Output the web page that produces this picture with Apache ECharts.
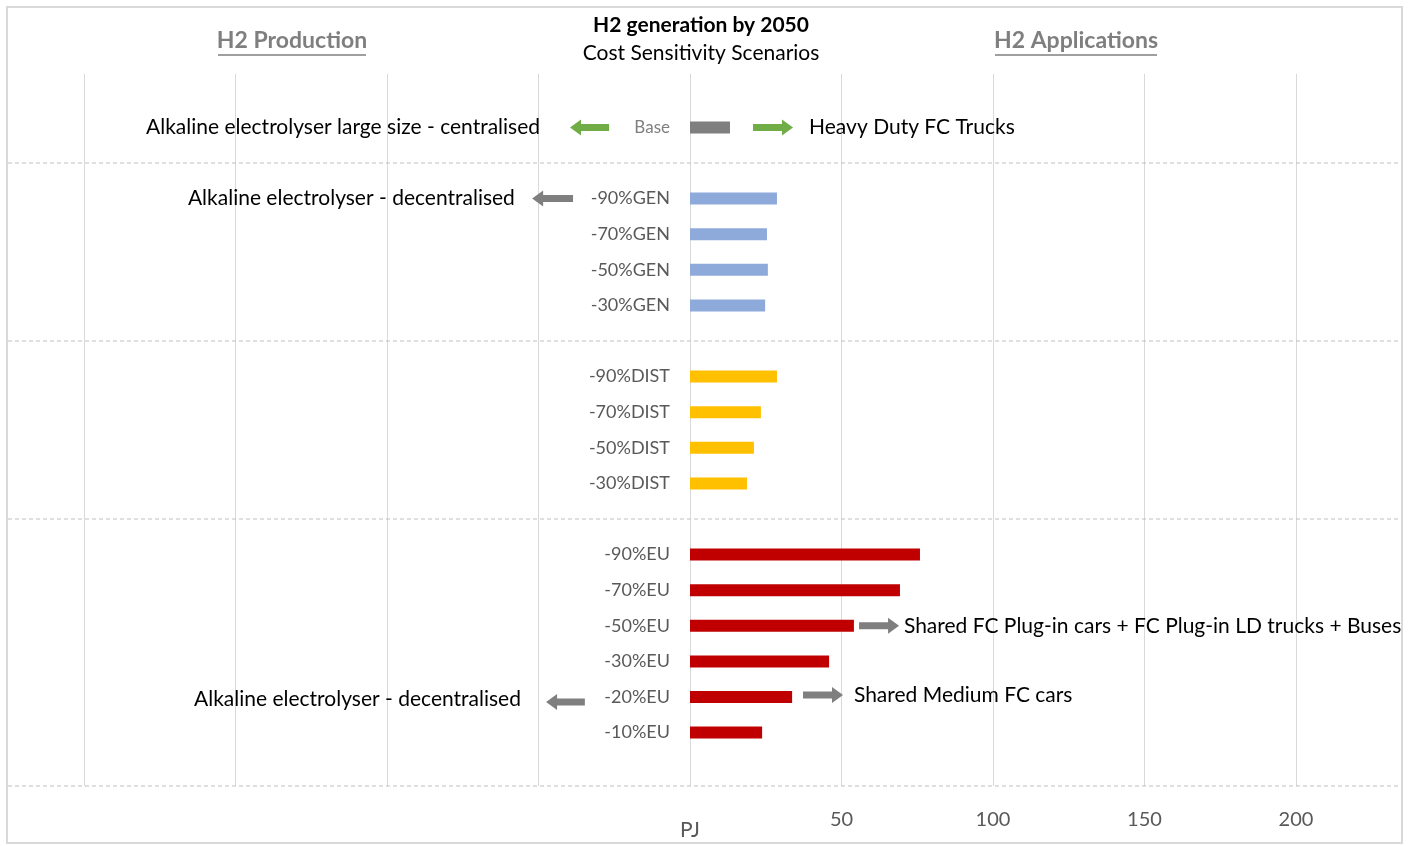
<!DOCTYPE html>
<html>
<head>
<meta charset="utf-8">
<script src="https://cdn.jsdelivr.net/npm/echarts@6/dist/echarts.min.js"></script>
<style>
  html, body { margin: 0; padding: 0; background: #fff; }
  #chart { width: 1411px; height: 846px; }
</style>
</head>
<body>
<div id="chart"></div>
<script>
// Scenario rows, top to bottom (blank entries are spacer rows between groups)
const categories = [' ', 'Base', '  ',
  '-90%GEN', '-70%GEN', '-50%GEN', '-30%GEN', '   ',
  '-90%DIST', '-70%DIST', '-50%DIST', '-30%DIST', '    ',
  '-90%EU', '-70%EU', '-50%EU', '-30%EU', '-20%EU', '-10%EU', '     '];

// H2 generation by 2050 (PJ)
const generation = [null, 13.2, null,
  28.7, 25.4, 25.7, 24.8, null,
  28.7, 23.4, 21.1, 18.8, null,
  75.9, 69.3, 54.1, 45.9, 33.7, 23.8, null];

// Scenario family of each row
const families = ['', 'base', '',
  'gen', 'gen', 'gen', 'gen', '',
  'dist', 'dist', 'dist', 'dist', '',
  'eu', 'eu', 'eu', 'eu', 'eu', 'eu', ''];

const familyColors = { base: '#7f7f7f', gen: '#8eaadb', dist: '#ffc000', eu: '#c00000' };

// Spacer rows that carry a dashed group separator
const separatorRows = [2, 7, 12];

// Technology / application notes: row, arrow span (PJ), arrow direction, text anchor (PJ), text
const noteRows   = ['Base', 'Base', '-90%GEN', '-50%EU', '-20%EU', '-20%EU'];
const noteArrows = [[-39.6, -26.7], [20.8, 34.0], [-52.1, -38.6], [55.8, 69.0], [37.3, 50.5], [-47.5, -34.7]];
const noteDirs   = ['left', 'right', 'left', 'right', 'right', 'left'];
const noteTextAt = [-49.5, 39.3, -57.8, 70.6, 54.1, -55.8];
const noteColors = ['#70ad47', '#70ad47', '#7f7f7f', '#7f7f7f', '#7f7f7f', '#7f7f7f'];
const noteTexts  = ['Alkaline electrolyser large size - centralised', 'Heavy Duty FC Trucks',
  'Alkaline electrolyser - decentralised', 'Shared FC Plug-in cars + FC Plug-in LD trucks + Buses',
  'Shared Medium FC cars', 'Alkaline electrolyser - decentralised'];
const noteShift  = [[0, 0], [0, 0], [0, 0], [0, 0], [-2, -2], [5, 2]]; // [arrow dy, text dy]

const xTicks = [50, 100, 150, 200];

const FONT = 'Lato, "Open Sans", sans-serif';

const chart = echarts.init(document.getElementById('chart'));

function arrowShape(x1, x2, y, dir) {
  const shaft = 3.5, head = 8, headLen = 11;
  if (dir === 'right') {
    const hx = x2 - headLen;
    return [[x1, y - shaft], [hx, y - shaft], [hx, y - head], [x2, y], [hx, y + head], [hx, y + shaft], [x1, y + shaft]];
  }
  const hx = x1 + headLen;
  return [[x2, y - shaft], [hx, y - shaft], [hx, y - head], [x1, y], [hx, y + head], [hx, y + shaft], [x2, y + shaft]];
}

const option = {
  animation: false,
  backgroundColor: '#fff',
  textStyle: { fontFamily: FONT },
  grid: { left: 84, right: 1411 - 1296, top: 74, bottom: 846 - 786, containLabel: false, outerBoundsMode: 'none' },
  xAxis: {
    type: 'value',
    min: -200, max: 200, interval: 50,
    axisLine: { show: false },
    axisTick: { show: false },
    splitLine: { show: true, lineStyle: { color: '#d9d9d9', width: 1 } },
    axisLabel: {
      margin: 24,
      color: '#595959',
      fontSize: 20,
      fontFamily: FONT,
      formatter: function (v) {
        if (v === 0) return '{pj|PJ}';
        return xTicks.indexOf(v) >= 0 ? String(v) : '';
      },
      rich: { pj: { fontSize: 21, color: '#595959', padding: [10, 0, 0, 0], fontFamily: FONT } }
    }
  },
  yAxis: {
    type: 'category',
    inverse: true,
    data: categories,
    axisLine: { show: false },
    axisTick: { show: false },
    splitLine: { show: false },
    axisLabel: { show: false }
  },
  graphic: [
    { type: 'rect', shape: { x: 7, y: 7, width: 1395, height: 836 }, style: { fill: 'none', stroke: '#d9d9d9', lineWidth: 2 }, silent: true },
    { type: 'text', x: 701, y: 25, style: { text: 'H2 generation by 2050', font: 'bold 21px ' + FONT, fill: '#000', align: 'center', verticalAlign: 'middle' } },
    { type: 'text', x: 701, y: 53, style: { text: 'Cost Sensitivity Scenarios', font: '21px ' + FONT, fill: '#000', align: 'center', verticalAlign: 'middle' } },
    { type: 'text', x: 292, y: 41, style: { text: 'H2 Production', font: 'bold 23px ' + FONT, fill: '#7f7f7f', align: 'center', verticalAlign: 'middle' } },
    { type: 'line', shape: { x1: 218, y1: 55, x2: 366, y2: 55 }, style: { stroke: '#7f7f7f', lineWidth: 1.5 } },
    { type: 'text', x: 1076, y: 41, style: { text: 'H2 Applications', font: 'bold 23px ' + FONT, fill: '#7f7f7f', align: 'center', verticalAlign: 'middle' } },
    { type: 'line', shape: { x1: 995, y1: 55, x2: 1157, y2: 55 }, style: { stroke: '#7f7f7f', lineWidth: 1.5 } }
  ],
  series: [
    {
      // dashed separators between scenario groups, plus the base line
      type: 'custom',
      silent: true,
      clip: false,
      z: 1,
      data: separatorRows.map(function (r) { return [0, r]; }).concat([[0, -1]]),
      renderItem: function (params, api) {
        const cs = params.coordSys;
        const r = api.value(1);
        const y = r < 0 ? cs.y + cs.height : api.coord([0, r])[1];
        return {
          type: 'line',
          shape: { x1: 8, y1: y, x2: 1400, y2: y },
          style: { stroke: '#bfbfbf', lineWidth: 1, lineDash: [4, 3] }
        };
      }
    },
    {
      type: 'bar',
      barWidth: 12,
      z: 3,
      data: generation.map(function (v, i) {
        return { value: v, itemStyle: { color: familyColors[families[i]] || '#7f7f7f' } };
      }),
      label: {
        show: true,
        position: 'left',
        distance: 20,
        color: '#595959',
        fontSize: 18,
        fontFamily: FONT,
        formatter: function (p) { return p.name === 'Base' ? '{b|Base}' : p.name; },
        rich: { b: { fontSize: 17, color: '#7f7f7f', fontFamily: FONT } }
      }
    },
    {
      // notes: arrows and technology / application labels
      type: 'custom',
      silent: true,
      clip: false,
      z: 4,
      data: noteRows.map(function (r, i) { return [noteArrows[i][0], categories.indexOf(r), noteArrows[i][1], noteTextAt[i]]; }),
      renderItem: function (params, api) {
        const i = params.dataIndex;
        const row = api.value(1);
        const p1 = api.coord([api.value(0), row]);
        const p2 = api.coord([api.value(2), row]);
        const pt = api.coord([api.value(3), row]);
        const dir = noteDirs[i];
        const ya = p1[1] + noteShift[i][0];
        const yt = p1[1] + noteShift[i][1];
        return {
          type: 'group',
          children: [
            { type: 'polygon', shape: { points: arrowShape(p1[0], p2[0], ya, dir) }, style: { fill: noteColors[i] } },
            { type: 'text', x: pt[0], y: yt, style: { text: noteTexts[i], font: '21px ' + FONT, fill: '#000', align: dir === 'left' ? 'right' : 'left', verticalAlign: 'middle' } }
          ]
        };
      }
    }
  ]
};

chart.setOption(option);
</script>
</body>
</html>
